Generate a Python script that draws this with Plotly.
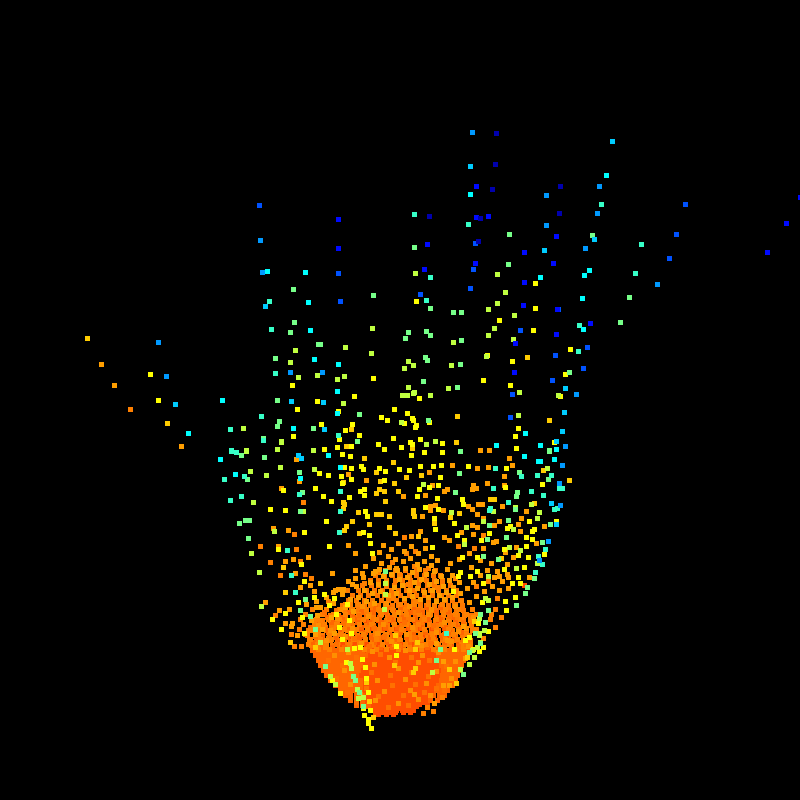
import plotly.graph_objects as go

# colour level of each band, on the jet scale 0-1
levels = dict(dark=0.04, blue=0.12, royal=0.19, azure=0.26, sky=0.31, cyan=0.36, teal=0.42, green=0.49,
              lime=0.57, yellow=0.64, gold=0.69, amber=0.735, orange=0.765, deep=0.79, red=0.815,
              mottle_light=0.75, mottle_dark=0.78, fill=0.772)

jet = [[0, "rgb(0,0,128)"], [0.11, "rgb(0,0,255)"], [0.36, "rgb(0,255,255)"],
       [0.64, "rgb(255,255,0)"], [0.89, "rgb(255,0,0)"], [1, "rgb(128,0,0)"]]

dark = [(496,133),(495,164),(492,189),(560,186),(429,216),(480,218),(559,213),(478,241)]
blue = [(476,186),(338,219),(476,217),(488,216),(556,236),(427,244),(338,248),(524,252),(553,263),(475,263),
        (424,269),(524,282),(523,305),(557,309),(556,334),(515,343),(800,197),(786,223),(767,252),(590,323),(514,372)]
royal = [(259,205),(475,243),(473,269),(338,273),(470,288),(420,294),(340,301),(520,330),(555,355),(685,204),
         (676,234),(669,258),(587,347),(583,368),(510,417),(512,394),(558,309),(552,380)]
azure = [(260,240),(262,272),(158,342),(166,376),(290,372),(472,132),(546,195),(546,225),(599,186),(597,213),
         (585,248),(657,284),(576,394),(565,446),(562,465),(559,483),(560,505),(548,541),(539,560),(322,372)]
sky = [(265,306),(175,404),(291,401),(470,166),(544,250),(612,141),(594,239),(565,388),(564,412),(562,431),
       (323,402),(324,429),(298,455),(301,458),(551,503),(556,524),(556,441)]
cyan = [(267,271),(305,272),(308,302),(310,330),(314,359),(222,400),(293,428),(188,433),(470,194),(540,277),
        (606,175),(589,270),(584,275),(582,298),(583,329),(338,364),(337,391),(337,413),(525,433),(496,445),
        (540,445),(556,449),(554,459),(540,461),(220,459),(235,474),(300,478),(328,455),(340,467),(524,456),(538,461)]
teal = [(269,301),(275,373),(261,416),(230,429),(231,450),(414,214),(468,224),(430,277),(426,300),(601,204),
        (641,244),(579,325),(578,351),(635,273),(338,435),(231,451),(236,452),(224,479),(244,476),(230,500),(241,496),
        (299,494),(340,491),(340,511),(339,532),(291,575),(287,550),(295,592),(495,468),(537,475),(551,475),(559,488),
        (562,488),(493,488),(531,491),(543,495),(508,502),(554,509),(557,508),(490,508),(489,510),(545,549),(538,556),
        (542,564),(535,572),(446,633),(271,329),(521,476),(263,440)]
green = [(293,289),(294,322),(290,332),(318,344),(275,358),(277,400),(279,421),(277,426),(313,428),(263,438),
         (509,234),(414,247),(508,264),(373,295),(453,312),(461,312),(430,308),(408,332),(426,331),(430,335),(405,338),
         (461,340),(320,344),(425,357),(427,360),(460,364),(423,381),(457,387),(359,414),(428,420),(357,441),(549,450),
         (592,235),(629,297),(620,322),(569,372),(549,451),(548,479),(241,455),(264,457),(299,472),(247,479),(302,492),
         (300,511),(245,520),(249,520),(239,523),(248,538),(385,571),(305,599),(300,610),(310,616),(315,629),(460,451),
         (459,473),(519,472),(455,492),(517,492),(516,496),(515,509),(489,525),(508,520),(506,537),(487,539),(542,542),
         (483,556),(498,559),(534,578),(527,587),(525,593),(516,605),(488,610),(480,614),(485,622),(475,633),(480,643),
         (440,649),(325,666),(436,660),(463,674),(353,676),(355,680),(359,692),(363,706),(469,652),(550,524)]
lime = [(295,350),(290,362),(298,377),(317,375),(243,428),(281,441),(277,449),(313,450),(246,450),(497,274),(415,273),
        (505,292),(497,303),(488,309),(514,315),(372,328),(494,328),(488,335),(453,342),(345,347),(513,339),(371,353),
        (486,356),(408,361),(413,365),(404,368),(451,365),(337,379),(344,376),(408,387),(448,388),(402,395),(407,395),
        (413,393),(414,392),(430,395),(519,392),(343,403),(518,415),(401,422),(435,441),(426,444),(558,395),(547,468),
        (281,442),(246,451),(266,475),(280,467),(314,469),(250,471),(253,502),(251,553),(274,531),(303,511),(259,572),
        (261,606),(385,594),(385,583),(384,609),(320,642),(347,649),(350,663),(351,668),(330,676),(335,684),(357,689),
        (363,697),(358,698),(432,672),(460,669),(469,664),(474,657),(472,650),(479,633),(484,630),(480,642),(423,484),
        (451,512),(531,504),(515,507),(493,511),(539,512),(537,518),(483,521),(466,527),(513,529),(464,544),(488,576),
        (488,600),(485,598),(509,547),(520,550),(537,563),(516,568),(479,618),(484,630),(479,635),(477,647)]
yellow = [(150,374),(158,400),(292,385),(317,401),(297,409),(293,436),(416,301),(535,283),(535,308),(499,320),(533,330),
          (487,355),(512,361),(373,378),(483,380),(510,385),(354,396),(419,398),(338,411),(394,409),(407,413),(381,417),
          (387,420),(412,418),(413,420),(404,423),(429,422),(352,424),(321,424),(345,430),(416,425),(415,427),(518,428),
          (359,435),(515,436),(393,438),(420,439),(339,439),(442,443),(378,444),(410,442),(412,444),(554,442),(337,447),
          (351,446),(324,449),(401,447),(384,449),(516,448),(570,349),(565,374),(560,396),(342,454),(350,456),(319,473),
          (328,475),(344,467),(351,468),(361,466),(363,469),(341,476),(379,468),(385,471),(399,469),(351,479),(342,483),
          (384,480),(283,490),(315,488),(323,496),(331,501),(349,497),(360,491),(364,489),(364,495),(270,509),(285,510),
          (365,511),(367,516),(326,521),(304,532),(363,532),(369,535),(278,549),(329,546),(370,543),(372,553),(301,564),
          (304,581),(324,594),(334,598),(314,597),(298,602),(329,605),(347,604),(285,613),(272,619),(302,617),(336,614),
          (349,620),(281,629),(339,627),(304,633),(351,633),(342,639),(354,648),(360,647),(396,646),(396,655),(362,659),
          (346,662),(365,667),(332,680),(340,693),(368,692),(366,678),(363,708),(364,715),(368,719),(368,723),(371,728),
          (370,710),(442,452),(424,452),(411,455),(506,468),(468,466),(441,465),(433,466),(420,466),(409,470),(440,477),
          (438,485),(429,487),(505,487),(542,484),(419,489),(417,496),(437,498),(462,499),(463,504),(425,507),(438,509),
          (434,518),(529,521),(454,523),(556,521),(510,526),(507,528),(534,529),(532,531),(435,529),(489,533),(457,535),
          (526,537),(464,540),(481,540),(532,539),(432,547),(504,549),(526,546),(477,557),(518,555),(528,557),(544,554),
          (462,557),(524,567),(504,569),(518,577),(520,583),(512,583),(515,597),(505,601),(506,610),(482,602),(478,623),
          (488,631),(465,640),(469,637),(483,647),(473,649),(454,649),(477,571),(470,576),(458,576),(460,572),(483,583),
          (453,591),(479,651)]
gold = [(87,338),(167,423),(457,416),(527,357),(549,420),(543,470),(569,480),(456,442),(351,429),(346,446),(412,448),
        (364,458),(393,462),(376,472),(343,482),(380,481),(394,483),(376,493),(379,489),(384,491),(398,491),(385,501),
        (343,502),(344,504),(343,508),(358,512),(376,514),(381,514),(389,516),(352,521),(369,524),(344,530),(346,526),
        (359,533),(389,527),(395,533),(283,567),(285,592),(320,583),(315,647),(290,642),(395,635),(417,642),(415,649),
        (394,665),(413,672),(415,668),(449,669),(456,683),(369,701),(373,717),(366,682),(467,657),(421,475),(406,477),
        (490,499),(494,499),(534,503),(413,510),(413,513),(414,516),(459,513),(450,517),(434,523),(418,536),(501,558),
        (474,621)]
amber = [(101,364),(114,385),(181,446),(480,450),(489,450),(296,459),(281,488),(299,481),(366,480),(348,474),(273,528),
         (288,530),(278,546),(293,559),(285,561),(308,557),(295,573),(332,573),(362,573),(373,573),(379,569),(396,568),
         (310,585),(300,587),(355,578),(352,584),(314,591),(333,592),(338,589),(343,589),(265,602),(306,604),(316,601),
         (316,607),(279,610),(289,609),(317,615),(331,617),(285,623),(292,623),(311,620),(291,626),(322,629),(297,635),
         (315,634),(334,633),(443,661),(443,685),(449,685),(434,703),(414,694),(465,658),(436,643),(463,626),(529,577),
         (508,588),(507,564),(507,574),(494,577),(499,576),(452,575),(509,458),(512,465),(488,467),(477,468),(452,465),
         (504,476),(429,472),(487,483),(504,485),(473,485),(476,488),(472,489),(432,485),(447,489),(444,491),(403,496),
         (425,495),(435,505),(430,506),(430,510),(443,510),(468,506),(472,509),(478,504),(482,504),(502,506),(526,511),
         (477,514),(422,516),(483,518),(521,518),(499,521),(518,524),(544,526),(494,525),(477,527),(472,525),(520,531),
         (420,531),(461,532),(473,534),(411,536),(444,537),(449,540),(425,540),(496,541),(536,543),(516,547),
         # upper part of the body
         (383,545),(391,549),(398,543),(404,551),(411,546),(418,553),(425,548),(431,556),(388,556),(395,559),(403,561),
         (410,558),(417,564),(424,561),(431,565),(437,560),(379,552),(373,558),(381,563),(389,567),(397,570),(405,568),
         (412,572),(419,569),(426,574),(434,571),(441,576),(447,569),(365,566),(375,571),(383,576),(391,574),(399,579),
         (407,577),(414,582),(421,579),(429,584),(436,581),(443,586),(449,580),(355,570),(363,577),(370,582),(378,584),
         (386,582),(394,587),(402,585),(409,590),(417,588),(424,592),(432,590),(439,595),(446,592),(453,587),(459,582),
         (348,581),(356,586),(364,590),(372,593),(380,591),(388,595),(396,593),(404,598),(412,596),(420,599),(428,597),
         (436,601),(444,599),(452,597),(460,593),(467,588),(473,582),(480,575),(487,570),(491,563),(497,571),(502,581),
         (508,577),(499,590),(492,586),(484,591),(476,596),(469,602),(335,590),(342,594),(350,599),(358,597),(366,601),
         (374,603),(326,597),(333,603),(320,607),(345,607),(353,611),(483,548),(469,553),(459,559),(450,563),(471,567),
         (480,560),(513,557),(505,552),(493,542),(355,553),(348,545)]
orange = [(130,409),(303,502),(294,534),(260,546),(296,549),(270,562),(300,561),(280,575),(305,574),(311,578),(275,615),
          (320,620),(308,630),(291,634),(309,639),(328,638),(301,646),(294,646),(325,647),(442,697),(427,707),(423,713),
          (433,711),(501,617),(495,627),(483,638),(404,537),(483,535),(458,546),(474,548),(415,551),
          # scattered over the upper part
          (406,553),(392,562),(414,566),(378,572),(399,574),(428,568),(364,583),(386,586),(408,584),(437,587),(455,578),
          (347,590),(372,600),(393,598),(415,601),(434,605),(461,600),(328,601),(350,604),(488,581),(497,598),(476,586)]
red = [(524,585)]

fill_rows = {
    570: [385,395,405,416,425,435],
    575: [375,384,392,400,409,416,424,433,440],
    580: [370,378,386,395,402,410,419,426,434,442],
    585: [362,371,378,386,394,403,410,418,427,434,442,450],
    590: [358,366,374,382,391,398,406,414,423,430,438,446,456],
    595: [352,360,368,377,384,392,400,409,416,424,432,441,448,456],
    600: [348,356,364,372,381,388,396,404,413,420,428,436,445,452,460],
    605: [342,350,357,364,370,378,385,392,398,406,413,420,426,434,441,448,454,462],
    610: [336,344,351,358,365,372,379,386,393,400,407,414,421,428,435,442,449,456,463],
    615: [330,338,345,352,359,366,373,380,387,394,401,408,415,422,429,436,443,450,457,464,471],
    620: [322,330,337,344,351,358,365,372,379,386,393,400,407,414,421,428,435,442,449,456,463,470],
    625: [315,323,331,338,345,352,359,366,373,380,387,394,401,408,415,422,429,436,443,450,457,464,471],
    630: [310,318,326,333,340,347,354,361,368,375,382,389,396,403,410,417,424,431,438,445,452,459,466,472],
    635: [307,315,322,329,336,343,350,357,364,371,378,385,392,399,406,413,420,427,434,441,448,455,462,469],
    640: [309,316,323,330,337,344,351,358,365,372,379,386,393,400,407,414,421,428,435,442,449,456,463,470],
    645: [311,318,325,332,339,346,353,360,367,374,381,388,395,402,409,416,423,430,437,444,451,458,465],
}
orange_rows = {
    604: [345,358,371,386,400,414,428,442,455],
    609: [312,326,339,352,366,378,392,405,418,431,445,458,472,495],
    614: [305,322,333,345,358,369,381,394,406,419,430,443,455,466,476,491],
    619: [300,316,328,339,352,363,376,388,399,412,424,436,448,461,470,490],
    624: [303,314,324,336,348,359,371,383,394,406,418,429,441,453,464],
    629: [299,312,323,333,344,356,367,378,391,401,413,424,436,448,458,476],
    634: [305,318,329,340,351,363,375,386,396,409,420,432,444,453,466],
    639: [310,320,331,343,353,365,376,388,399,411,421,433,445,457],
    644: [308,317,326,337,349,359,371,382,394,405,416,426,438,449,461,470],
    649: [318,329,341,352,364,376,386,398,410,421,433,444,456,463],
}
deep_rows = {
    607: [362,375,388,401,413,426,440],
    612: [349,361,373,385,398,410,422,436,448],
    617: [327,342,354,366,379,391,403,415,427,440,452],
    622: [318,332,345,357,369,381,393,405,417,429,441,455],
    627: [310,325,338,349,361,373,385,397,409,421,433,445,458],
    632: [316,328,341,353,365,377,389,400,413,425,437,449,461],
    637: [322,335,347,359,371,383,394,406,418,430,442,454],
    642: [313,326,338,350,362,374,386,397,409,421,433,445,458],
    647: [320,332,344,356,368,380,392,403,415,427,439,451],
    650: [312,317,322,327,332,337,342,347,352,357,362,368,436,441,446,451,456,461,466,470],
    655: [315,320,325,330,335,340,345,350,355,360,365,438,443,448,453,458,463,466],
    660: [318,323,328,333,338,343,348,353,358,440,445,450,455,460,463],
    665: [320,325,330,335,340,345,350,355,360,441,446,451,456,461],
    670: [323,328,333,338,343,348,353,358,443,448,453,458],
    675: [326,331,336,341,346,351,356,442,447,452,457],
    680: [330,335,340,345,350,355,360,441,446,451,455],
    685: [335,340,345,350,355,360,438,443,448,452],
    690: [340,345,350,355,360,436,441,447],
    695: [345,350,356,362,433,439,444],
    700: [350,356,362,430,437],
    705: [356,362,368],
}
red_rows = {
    612: [372,384,396,408,420],
    620: [366,378,390,402,414,426,438],
    628: [360,372,384,396,408,420,432,444],
    636: [350,362,374,386,398,410,422,434,446],
    644: [342,354,366,378,390,402,414,426,438,450],
    650: [366,372,378,384,390,396,402,408,414,420,426,432],
    652: [368,374,380,386,392,398,404,410,416,422,428,434],
    654: [369,375,381,387,393,399,405,411,417,423,429,435],
    656: [364,371,377,383,389,395,401,407,413,419,425,431,437],
    658: [362,367,373,379,385,391,397,403,409,415,421,427,433,438],
    660: [365,371,377,383,389,395,401,407,413,419,425,431,437],
    662: [363,369,375,381,387,393,399,405,411,417,423,429,435,440],
    664: [361,367,373,379,385,391,397,403,409,415,421,427,433,439],
    666: [360,366,372,378,384,390,396,402,408,414,420,426,432,438],
    668: [363,369,375,381,387,393,399,405,411,417,423,429,435],
    670: [361,367,373,379,385,391,397,403,409,415,421,427,433,439],
    672: [359,365,371,377,383,389,395,401,407,413,419,425,431,437],
    674: [359,364,370,376,382,388,394,400,406,412,418,424,430,436],
    676: [361,367,373,379,385,391,397,403,409,415,421,427,433,438],
    678: [362,368,374,380,386,392,398,404,410,416,422,428,434,439],
    680: [364,370,376,382,388,394,400,406,412,418,424,430,436],
    682: [360,366,372,378,384,390,396,402,408,414,420,426,432,437],
    684: [361,367,373,379,385,391,397,403,409,415,421,427,433],
    686: [363,369,375,381,387,393,399,405,411,417,423,429,435],
    688: [365,371,377,383,389,395,401,407,413,419,425,431],
    690: [361,367,373,379,385,391,397,403,409,415,421,427,433],
    692: [363,369,375,381,387,393,399,405,411,417,423,429],
    694: [364,370,376,382,388,394,400,406,412,418,424,430],
    696: [366,372,378,384,390,396,402,408,414,420,426],
    698: [362,368,374,380,386,392,398,404,410,416,422,428],
    700: [364,370,376,382,388,394,400,406,412,418,424],
    702: [362,368,374,380,386,392,398,404,410,416,422,427],
    704: [365,371,377,383,389,395,401,407,413,419],
    706: [368,374,380,386,392,398,404,410,416],
    708: [370,376,382,388,394,400,406,412],
    710: [372,378,384,390,396,402,408,413],
    712: [375,381,388,395,403,410],
    714: [378,386,393],
}
# lighter and darker flecks that break up the packed body
mottle_light = [(318,625),(337,618),(352,628),(368,616),(383,624),(398,612),(412,627),(428,614),(444,622),(458,631),
                (326,640),(345,636),(361,643),(377,633),(391,641),(406,634),(421,645),(436,632),(451,641),(466,628),
                (334,655),(348,652),(372,651),(389,657),(405,650),(422,655),(438,652),(455,661),(344,670),(374,664),
                (398,668),(418,662),(436,671),(451,678),(350,684),(377,680),(405,679),(426,683),(360,694),(384,691),
                (410,690),(430,695),(375,700),(398,703),(418,699),(340,609),(362,606),(386,603),(409,606),(431,609),
                (455,606),(473,617),(330,630),(447,640),(468,646)]
mottle_dark = [(324,612),(343,623),(359,615),(374,628),(389,617),(404,622),(418,610),(433,625),(449,616),(463,622),
               (315,636),(336,644),(354,638),(369,646),(384,636),(399,645),(414,637),(430,643),(444,634),(458,646),
               (328,660),(342,665),(356,657),(380,654),(395,662),(411,657),(429,660),(446,666),(336,678),(352,675),
               (371,672),(390,675),(411,672),(428,676),(444,690),(347,692),(366,688),(392,685),(415,684),(436,688),
               (356,702),(378,696),(403,695),(424,692),(388,707),(408,705)]

def unpack(points, rows=None):
    xs = [p[0] for p in points]
    ys = [p[1] for p in points]
    for y, row in (rows or {}).items():
        xs += row
        ys += [y] * len(row)
    return xs, ys

# painted back to front, hot body first so the cooler marks sit on top
bands = [("fill", [], fill_rows), ("red", red, red_rows), ("deep", [], deep_rows), ("orange", orange, orange_rows),
         ("mottle_dark", mottle_dark, None), ("mottle_light", mottle_light, None), ("amber", amber, None),
         ("gold", gold, None), ("yellow", yellow, None), ("lime", lime, None), ("green", green, None),
         ("teal", teal, None), ("cyan", cyan, None), ("sky", sky, None), ("azure", azure, None),
         ("royal", royal, None), ("blue", blue, None), ("dark", dark, None)]

fig = go.Figure()
for name, points, rows in bands:
    xs, ys = unpack(points, rows)
    fig.add_trace(go.Scatter(x=xs, y=ys, mode="markers", name=name,
                             marker=dict(symbol="square", size=5, line=dict(width=0),
                                         color=[levels[name]] * len(xs),
                                         colorscale=jet, cmin=0, cmax=1)))

fig.update_xaxes(range=[-0.5, 799.5], visible=False)
fig.update_yaxes(range=[799.5, -0.5], visible=False)
fig.update_layout(width=800, height=800, margin=dict(l=0, r=0, t=0, b=0), showlegend=False,
                  paper_bgcolor="black", plot_bgcolor="black")
fig.write_html("out.html", config=dict(displayModeBar=False),
               post_script="document.body.style.margin='0';document.body.style.background='black';")
